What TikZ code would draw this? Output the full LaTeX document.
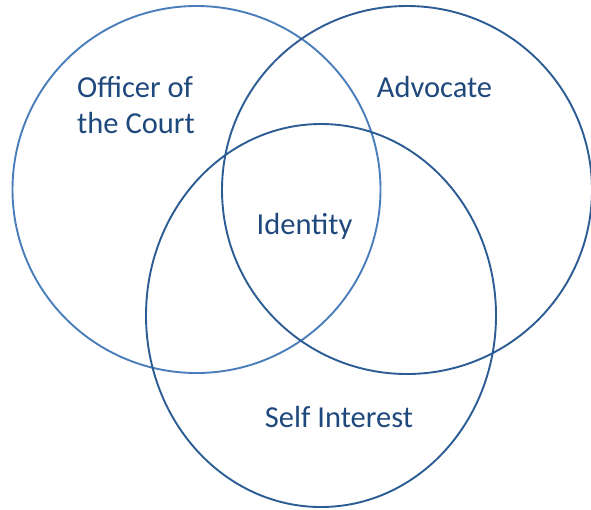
\documentclass[tikz,border=0pt]{standalone}
\usepackage{fontspec}
\setmainfont{Carlito}
\usetikzlibrary{shapes.geometric}
\definecolor{ringlight}{HTML}{4A7EBB}
\definecolor{ringdark}{HTML}{2C5C94}
\definecolor{labeltext}{HTML}{1F497D}
\tikzset{
  ring/.style={ellipse, draw, line width=1.9pt, inner sep=0pt, fill=none},
  lbl/.style={text=labeltext, font=\fontsize{30.5}{35.5}\selectfont, inner sep=0pt},
}
\begin{document}
\begin{tikzpicture}[x=1pt,y=-1pt]
\useasboundingbox (0,0) rectangle (591,509);
\node[ring, draw=ringlight, minimum width=368pt, minimum height=367pt] (officer) at (196.5,189.5) {};
\node[ring, draw=ringdark, minimum width=370pt, minimum height=368pt] (advocate) at (407,190) {};
\node[ring, draw=ringdark, minimum width=350pt, minimum height=383pt] (self) at (321,315.5) {};
\node[lbl, align=left, anchor=west] (tofficer) at (77,105) {Officer of\\the Court};
\node[lbl] (tadvocate) at (434.5,87) {Advocate};
\node[lbl] (tidentity) at (304.5,226) {Identity};
\node[lbl] (tself) at (339,417) {Self Interest};
\end{tikzpicture}
\end{document}
